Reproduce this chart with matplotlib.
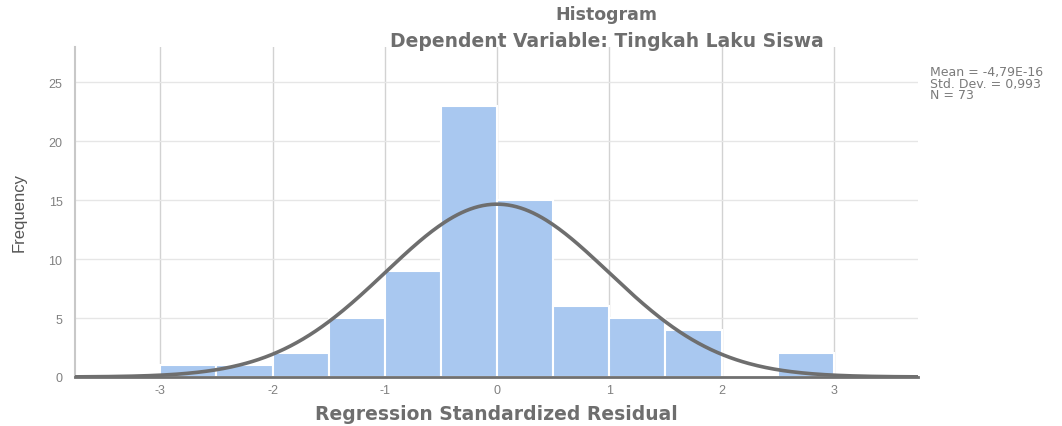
import numpy as np
import matplotlib.pyplot as plt

plt.rcParams['font.family'] = ['Liberation Sans', 'DejaVu Sans']

# histogram bins (width 0.5) and counts
bin_edges = [-3.0, -2.5, -2.0, -1.5, -1.0, -0.5, 0.0, 0.5, 1.0, 1.5, 2.0, 2.5, 3.0]
counts = [1, 1, 2, 5, 9, 23, 15, 6, 5, 4, 0, 2]
mean = -4.79e-16
std = 0.993
n = 73
xtick_vals = [-3, -2, -1, 0, 1, 2, 3]
xtick_labels = ['-3', '-2', '-1', '0', '1', '2', '3']

fig = plt.figure(figsize=(10.62, 4.27), dpi=100)
ax = fig.add_axes([0.0706, 0.1148, 0.7938, 0.7728])

left = np.array(bin_edges[:-1])
width = np.diff(bin_edges)
ax.bar(left, counts, width=width, align='edge', color='#a9c8f0',
       edgecolor='white', linewidth=1.5, zorder=2)

# normal curve scaled to counts
xs = np.linspace(-3.76, 3.75, 400)
bw = 0.5
ys = n * bw * np.exp(-0.5 * ((xs - mean) / std) ** 2) / (std * np.sqrt(2 * np.pi))
ax.plot(xs, ys, color='#6e6e6e', linewidth=2.6, zorder=3)

ax.set_xlim(-3.76, 3.75)
ax.set_ylim(0, 28)
ax.set_xticks(xtick_vals)
ax.set_xticklabels(xtick_labels)
ax.set_yticks([0, 5, 10, 15, 20, 25])
ax.tick_params(length=0, colors='#808080', labelsize=9)
ax.tick_params(axis='x', pad=5)
ax.tick_params(axis='y', pad=9)
ax.xaxis.grid(True, color='#d2d2d2', linewidth=1.0, zorder=0)
ax.yaxis.grid(True, color='#e6e6e6', linewidth=1.0, zorder=0)
ax.set_axisbelow(True)

for s in ['top', 'right']:
    ax.spines[s].set_visible(False)
ax.spines['left'].set_color('#c8c8c8')
ax.spines['left'].set_linewidth(1.5)
ax.spines['bottom'].set_color('#707070')
ax.spines['bottom'].set_linewidth(2)
ax.spines['bottom'].set_zorder(4)

ax.set_xlabel('Regression Standardized Residual', fontsize=13.5, fontweight='bold',
              family=['DejaVu Sans'], color='#6e6e6e', labelpad=6)
ax.set_ylabel('Frequency', fontsize=12, color='#555555', labelpad=16,
              family=['Liberation Sans Narrow', 'Liberation Sans'])

fig.text(0.571, 0.965, 'Histogram', ha='center', va='center', fontsize=12.5,
         fontweight='bold', color='#6e6e6e', family=['DejaVu Sans'])
fig.text(0.571, 0.902, 'Dependent Variable: Tingkah Laku Siswa', ha='center', va='center',
         fontsize=13.5, fontweight='bold', color='#6e6e6e', family=['DejaVu Sans'])

fig.text(0.876, 0.803, 'Mean = -4,79E-16\nStd. Dev. = 0,993\nN = 73', ha='left', va='center',
         fontsize=9, color='#7a7a7a', linespacing=0.82, family=['DejaVu Sans'])

fig.savefig('out.png', dpi=100)
